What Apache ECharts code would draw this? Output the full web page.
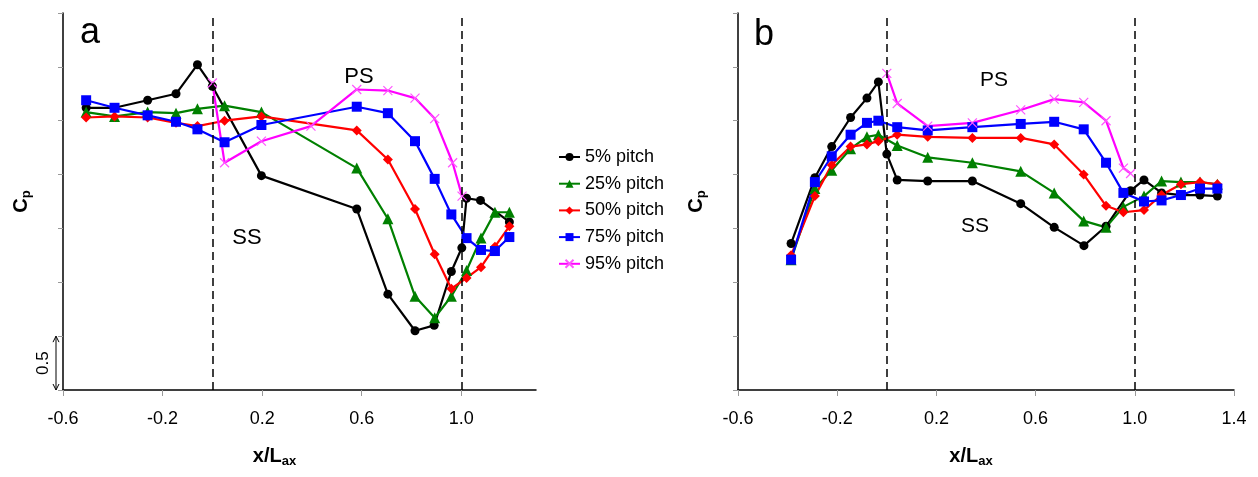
<!DOCTYPE html>
<html><head><meta charset="utf-8">
<script src="https://cdn.jsdelivr.net/npm/echarts@6/dist/echarts.min.js"></script>
<style>html,body{margin:0;padding:0;background:#fff}#c{width:1258px;height:477px}</style>
</head><body><div id="c"></div>
<script>
const FONT = 'Liberation Sans, Arial, sans-serif';
const seriesNames = ['5% pitch', '25% pitch', '50% pitch', '75% pitch', '95% pitch'];
const xTicksA = [-0.6, -0.2, 0.2, 0.6, 1.0];
const xTicksB = [-0.6, -0.2, 0.2, 0.6, 1.0, 1.4];

// ---- panel a ----
const a5x  = [-0.507, -0.393, -0.26, -0.146, -0.06, 0.0, 0.197, 0.58, 0.705, 0.814, 0.891, 0.96, 1.002, 1.021, 1.077, 1.193];
const a5y  = [2.62, 2.62, 2.69, 2.75, 3.02, 2.82, 1.99, 1.68, 0.89, 0.55, 0.60, 1.10, 1.32, 1.78, 1.76, 1.56];
const aPx  = [-0.507, -0.393, -0.26, -0.146, -0.06, 0.049, 0.197, 0.58, 0.705, 0.814, 0.893, 0.96, 1.021, 1.079, 1.135, 1.193];
const a25y = [2.58, 2.54, 2.58, 2.57, 2.61, 2.64, 2.58, 2.06, 1.59, 0.87, 0.67, 0.87, 1.11, 1.41, 1.65, 1.65];
const a50y = [2.53, 2.54, 2.53, 2.48, 2.45, 2.50, 2.54, 2.41, 2.14, 1.68, 1.26, 0.94, 1.04, 1.14, 1.33, 1.52];
const a75y = [2.69, 2.62, 2.55, 2.49, 2.42, 2.30, 2.46, 2.63, 2.57, 2.31, 1.96, 1.63, 1.41, 1.30, 1.29, 1.42];
const a95x = [0.0, 0.049, 0.197, 0.396, 0.58, 0.705, 0.814, 0.893, 0.965, 1.003];
const a95y = [2.85, 2.11, 2.31, 2.45, 2.79, 2.78, 2.71, 2.52, 2.11, 1.80];

// ---- panel b ----
const b5x  = [-0.386, -0.29, -0.222, -0.146, -0.08, -0.034, 0.0, 0.042, 0.165, 0.345, 0.54, 0.675, 0.795, 0.884, 0.983, 1.037, 1.108, 1.186, 1.263, 1.333];
const b5y  = [1.36, 1.97, 2.26, 2.53, 2.71, 2.86, 2.19, 1.95, 1.94, 1.94, 1.73, 1.51, 1.34, 1.52, 1.85, 1.95, 1.83, 1.81, 1.81, 1.80];
const bPx  = [-0.386, -0.29, -0.222, -0.146, -0.08, -0.034, 0.042, 0.165, 0.345, 0.54, 0.675, 0.794, 0.884, 0.954, 1.037, 1.108, 1.186, 1.263, 1.333];
const b25y = [1.21, 1.87, 2.04, 2.24, 2.35, 2.37, 2.27, 2.16, 2.11, 2.03, 1.83, 1.57, 1.51, 1.70, 1.80, 1.94, 1.93, 1.93, 1.91];
const b50y = [1.25, 1.80, 2.09, 2.26, 2.28, 2.31, 2.37, 2.35, 2.34, 2.34, 2.28, 2.00, 1.71, 1.65, 1.67, 1.81, 1.91, 1.93, 1.91];
const b75y = [1.21, 1.93, 2.17, 2.37, 2.48, 2.50, 2.44, 2.41, 2.44, 2.47, 2.49, 2.42, 2.11, 1.83, 1.75, 1.76, 1.81, 1.87, 1.87];
const b95x = [0.0, 0.042, 0.165, 0.345, 0.54, 0.675, 0.794, 0.884, 0.954, 0.983];
const b95y = [2.94, 2.66, 2.45, 2.48, 2.60, 2.70, 2.67, 2.50, 2.06, 2.01];

const styles = {
  '5% pitch':  { color: '#000000', symbol: 'circle', size: 9 },
  '25% pitch': { color: '#008000', symbol: 'triangle', size: 11 },
  '50% pitch': { color: '#ff0000', symbol: 'diamond', size: 10 },
  '75% pitch': { color: '#0000ff', symbol: 'rect', size: 10 },
  '95% pitch': { color: '#ff00ff', symbol: 'path://M0,0L10,10M10,0L0,10', size: 9 }
};

function zip(xs, ys) { return xs.map((x, i) => [x, ys[i]]); }
function mk(name, xs, ys, g) {
  const s = styles[name];
  return {
    type: 'line', name: name, xAxisIndex: g, yAxisIndex: g,
    data: zip(xs, ys), symbol: s.symbol, symbolSize: s.size,
    showAllSymbol: true, animation: false,
    lineStyle: { color: s.color, width: 2.2 },
    itemStyle: name === '95% pitch'
      ? { color: '#ff00ff', borderColor: '#ff55ff', borderWidth: 1.2 }
      : { color: s.color, borderWidth: 0 },
    emphasis: { disabled: true }
  };
}
const dashLine = (g) => ({
  type: 'line', xAxisIndex: g, yAxisIndex: g, data: [], silent: true, animation: false,
  markLine: {
    silent: true, symbol: ['none', 'none'], animation: false,
    label: { show: false },
    lineStyle: { color: '#000', width: 1.5, type: [8, 5] },
    data: [{ xAxis: 0 }, { xAxis: 1 }]
  }
});

const yName = '{m|C}{s|p}';
const xName = '{m|x/L}{s|ax}';
const richName = {
  m: { fontSize: 20, fontWeight: 'bold', fontFamily: FONT, color: '#000', lineHeight: 24 },
  s: { fontSize: 13, fontWeight: 'bold', fontFamily: FONT, color: '#000', verticalAlign: 'bottom', lineHeight: 13 }
};
function yAx(g) {
  return {
    gridIndex: g, type: 'value', min: 0, max: 3.5, interval: 0.5,
    axisLine: { show: true, onZero: false, lineStyle: { color: '#000', width: 1.5 } },
    axisTick: { show: true, length: 5, lineStyle: { color: '#999', width: 1 } },
    axisLabel: { show: false }, splitLine: { show: false },
    name: yName, nameLocation: 'middle', nameGap: 30,
    nameTextStyle: { rich: richName }
  };
}
function xAx(g, max, ticks, shift) {
  return {
    gridIndex: g, type: 'value', min: -0.6, max: max, interval: 0.4,
    axisLine: { show: true, onZero: false, lineStyle: { color: '#000', width: 1.5 } },
    axisTick: { show: true, length: 6, customValues: ticks, lineStyle: { color: '#999', width: 1 } },
    axisLabel: { customValues: ticks, formatter: v => v.toFixed(1), fontSize: 18, fontFamily: FONT, color: '#000', margin: 20 },
    splitLine: { show: false },
    name: xName, nameLocation: 'middle', nameGap: 54,
    nameTextStyle: { rich: richName, padding: [0, shift, 0, 0] }
  };
}

const chart = echarts.init(document.getElementById('c'), null, { renderer: 'canvas' });
const series = [
  mk('5% pitch', a5x, a5y, 0), mk('25% pitch', aPx, a25y, 0), mk('50% pitch', aPx, a50y, 0),
  mk('75% pitch', aPx, a75y, 0), mk('95% pitch', a95x, a95y, 0),
  mk('5% pitch', b5x, b5y, 1), mk('25% pitch', bPx, b25y, 1), mk('50% pitch', bPx, b50y, 1),
  mk('75% pitch', bPx, b75y, 1), mk('95% pitch', b95x, b95y, 1),
  dashLine(0), dashLine(1)
];
chart.setOption({
  animation: false,
  backgroundColor: '#fff',
  textStyle: { fontFamily: FONT },
  grid: [
    { left: 63, top: 13, width: 473, height: 377, outerBoundsMode: 'none', containLabel: false },
    { left: 738, top: 13, width: 496, height: 377, outerBoundsMode: 'none', containLabel: false }
  ],
  xAxis: [xAx(0, 1.3, xTicksA, 50), xAx(1, 1.4, xTicksB, 30)],
  yAxis: [yAx(0), yAx(1)],
  legend: {
    data: seriesNames, orient: 'vertical', left: 553, top: 143,
    itemWidth: 21, itemHeight: 10, itemGap: 8.7,
    textStyle: { fontSize: 18, fontFamily: FONT, color: '#000' },
    selectedMode: false
  },
  series: series
});

const p0 = chart.convertToPixel({ gridIndex: 0 }, [-0.6, 0]);
const p1 = chart.convertToPixel({ gridIndex: 0 }, [-0.6, 0.5]);
const ax = p0[0] - 7;
const txt = (t, x, y, size) => ({ type: 'text', x: x, y: y, silent: true,
  style: { text: t, fontSize: size, fontFamily: FONT, fill: '#000', align: 'center', verticalAlign: 'middle' } });
chart.setOption({
  graphic: [
    txt('a', 90, 33, 36), txt('b', 764, 35, 36),
    txt('PS', 359, 77, 22), txt('SS', 247, 238, 22),
    txt('PS', 994, 80, 21), txt('SS', 975, 226, 21),
    { type: 'line', silent: true, shape: { x1: ax, y1: p1[1], x2: ax, y2: p0[1] }, style: { stroke: '#000', lineWidth: 1 } },
    { type: 'polyline', silent: true, shape: { points: [[ax - 3, p1[1] + 6], [ax, p1[1]], [ax + 3, p1[1] + 6]] }, style: { stroke: '#000', lineWidth: 1, fill: null } },
    { type: 'polyline', silent: true, shape: { points: [[ax - 3, p0[1] - 6], [ax, p0[1]], [ax + 3, p0[1] - 6]] }, style: { stroke: '#000', lineWidth: 1, fill: null } },
    { type: 'text', x: ax - 13, y: (p0[1] + p1[1]) / 2, rotation: Math.PI / 2, silent: true,
      style: { text: '0.5', fontSize: 17, fontFamily: FONT, fill: '#000', align: 'center', verticalAlign: 'middle' } }
  ]
});
</script></body></html>
